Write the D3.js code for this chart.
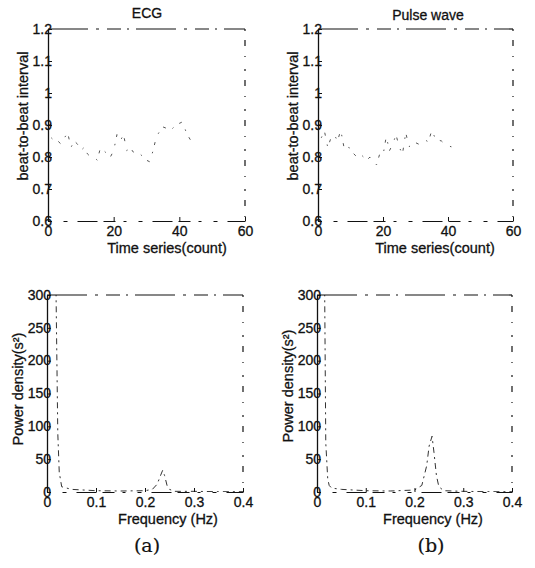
<!DOCTYPE html>
<html>
<head>
<meta charset="utf-8">
<script src="https://cdn.jsdelivr.net/npm/d3@7"></script>
<style>
  html, body { margin: 0; padding: 0; background: #fff; }
  svg { display: block; }
  text { font-family: "Liberation Sans", Arial, sans-serif; fill: #111; stroke: #111; stroke-width: 0.3px; }
</style>
</head>
<body>
<svg id="chart" width="535" height="568"></svg>
<script>
// ---------- data ----------
const panelTitles = ["ECG", "Pulse wave"];
const panelLetters = ["(a)", "(b)"];

// beat-to-beat interval series (s), index = beat count
const ecgRR = [0.86, 0.85, 0.85, 0.84, 0.86, 0.875, 0.83, 0.85, 0.84, 0.82,
               0.83, 0.81, 0.80, 0.80, 0.79, 0.83, 0.82, 0.81, 0.80, 0.82,
               0.87, 0.85, 0.87, 0.82, 0.83, 0.815, 0.82, 0.81, 0.80, 0.79,
               0.785, 0.82, 0.863, 0.88, 0.894, 0.89, 0.88, 0.89, 0.90, 0.905,
               0.91, 0.88, 0.86, 0.843, 0.85];
const pulseRR = [0.86, 0.88, 0.83, 0.86, 0.87, 0.85, 0.884, 0.83, 0.84, 0.82,
                 0.81, 0.80, 0.81, 0.80, 0.79, 0.80, 0.79, 0.775, 0.81, 0.805,
                 0.864, 0.82, 0.84, 0.87, 0.83, 0.81, 0.876, 0.832, 0.84, 0.845,
                 0.84, 0.85, 0.853, 0.847, 0.884, 0.86, 0.853, 0.85, 0.84, 0.835,
                 0.832, 0.83];

// power spectral density
const freqHz = [0, 0.005, 0.01, 0.015, 0.018, 0.022, 0.025, 0.03, 0.05, 0.1,
                0.15, 0.2, 0.215, 0.225, 0.23, 0.236, 0.24, 0.245, 0.25, 0.26,
                0.3, 0.35, 0.4];
const ecgPSD = [2500, 1800, 1100, 520, 330, 90, 30, 8, 4, 2,
                1.5, 2, 4, 12, 22, 33, 25, 10, 4, 1,
                1, 0.5, 0.5];
const pulsePSD = [2500, 1700, 900, 380, 75, 20, 10, 6, 4, 2,
                  1.5, 3, 10, 40, 70, 85, 60, 25, 8, 2,
                  1, 0.5, 0.5];

const rrTicksX = [0, 20, 40, 60];
const rrTicksY = [0.6, 0.7, 0.8, 0.9, 1, 1.1, 1.2];
const psdTicksX = [0, 0.1, 0.2, 0.3, 0.4];
const psdTicksY = [0, 50, 100, 150, 200, 250, 300];

const rrXLabel = "Time series(count)";
const rrYLabel = "beat-to-beat interval";
const psdXLabel = "Frequency (Hz)";
const psdYLabel = "Power density(s²)";

// ---------- layout ----------
const svg = d3.select("#chart");

const panels = [
  { kind: "rr", x0: 48, x1: 245, y0: 29, y1: 221, xl: 167, yl: 23, ylc: 116, title: panelTitles[0], tx: 147, ty: 18, data: ecgRR },
  { kind: "rr", x0: 318, x1: 513, y0: 29, y1: 221, xl: 435, yl: 293, ylc: 116, title: panelTitles[1], tx: 428, ty: 20, data: pulseRR },
  { kind: "psd", x0: 47, x1: 243, y0: 295, y1: 492, xl: 168, yl: 18, ylc: 389, data: ecgPSD },
  { kind: "psd", x0: 317, x1: 512, y0: 295, y1: 492, xl: 433, yl: 288, ylc: 386, data: pulsePSD }
];

panels.forEach((p, i) => {
  const g = svg.append("g");
  const isRR = p.kind === "rr";
  const x = d3.scaleLinear().domain(isRR ? [0, 60] : [0, 0.4]).range([p.x0, p.x1]);
  const y = d3.scaleLinear().domain(isRR ? [0.6, 1.2] : [0, 300]).range([p.y1, p.y0]);

  const clipId = "clip" + i;
  svg.append("clipPath").attr("id", clipId).append("rect")
    .attr("x", p.x0).attr("y", p.y0).attr("width", p.x1 - p.x0).attr("height", p.y1 - p.y0);

  // data line (faint, broken as in the scanned original)
  let pts;
  if (isRR) pts = p.data.map((v, k) => [k + 1, v]);
  else pts = p.data.map((v, k) => [freqHz[k], v]);
  const line = d3.line().x(d => x(d[0])).y(d => y(d[1]));
  g.append("path")
    .attr("clip-path", `url(#${clipId})`)
    .attr("d", line(pts))
    .attr("fill", "none")
    .attr("stroke", isRR ? "#555" : "#333")
    .attr("stroke-width", 1)
    .attr("stroke-dasharray", isRR ? "1.5,7,3,9" : "6,4,2,4");

  // box (top / right) with scan-like broken strokes
  g.append("line").attr("x1", p.x0).attr("x2", p.x1).attr("y1", p.y0).attr("y2", p.y0)
    .attr("stroke", "#111").attr("stroke-width", 1.2).attr("stroke-dasharray", "40,8,3,8,14,6,2,7");
  g.append("line").attr("x1", p.x1).attr("x2", p.x1).attr("y1", p.y0).attr("y2", p.y1)
    .attr("stroke", "#111").attr("stroke-width", 1.2).attr("stroke-dasharray", "2,9,6,10,1,12");

  // axes
  const xAxis = d3.axisBottom(x).tickValues(isRR ? rrTicksX : psdTicksX)
    .tickSizeInner(-4).tickSizeOuter(0).tickPadding(7)
    .tickFormat(d => isRR ? d3.format("d")(d) : (d === 0 ? "0" : d3.format(".1f")(d)));
  const yAxis = d3.axisLeft(y).tickValues(isRR ? rrTicksY : psdTicksY)
    .tickSizeInner(-4).tickSizeOuter(0).tickPadding(-4)
    .tickFormat(d => isRR ? (d === 1 ? "1" : d3.format(".1f")(d)) : d3.format("d")(d));

  const gx = g.append("g").attr("transform", `translate(0,${p.y1})`).call(xAxis);
  const gy = g.append("g").attr("transform", `translate(${p.x0},0)`).call(yAxis);
  gx.select(".domain").attr("stroke", "#111").attr("stroke-width", 1.2).attr("stroke-dasharray", "3,12,4,10,20,6,12,8");
  gy.select(".domain").attr("stroke", "#111").attr("stroke-width", 1.3);
  [gx, gy].forEach(a => {
    a.selectAll(".tick line").attr("stroke", "#111");
    a.selectAll(".tick text").style("font-family", '"Liberation Sans", Arial, sans-serif')
      .style("font-size", "14px").attr("fill", "#111");
  });
  gx.selectAll(".tick text").attr("dy", "0.55em");
  gy.selectAll(".tick text").attr("dy", "0.3em");

  // axis labels
  g.append("text").attr("x", p.xl).attr("y", (p.y1) + 32).attr("text-anchor", "middle")
    .style("font-size", "14.5px").text(isRR ? rrXLabel : psdXLabel);
  g.append("text").attr("transform", `translate(${p.yl + 5},${p.ylc}) rotate(-90)`)
    .attr("text-anchor", "middle").style("font-size", "14.5px")
    .text(isRR ? rrYLabel : psdYLabel);

  if (p.title) {
    g.append("text").attr("x", p.tx).attr("y", p.ty).attr("text-anchor", "middle")
      .style("font-size", "14px").text(p.title);
  }
});

// panel letters
[[147, panelLetters[0]], [431, panelLetters[1]]].forEach(([cx, t]) => {
  svg.append("text").attr("x", cx).attr("y", 552).attr("text-anchor", "middle")
    .style("font-family", '"DejaVu Serif", "Liberation Serif", serif')
    .style("stroke-width", "0.2px")
    .style("font-size", "19px").text(t);
});
</script>
</body>
</html>
